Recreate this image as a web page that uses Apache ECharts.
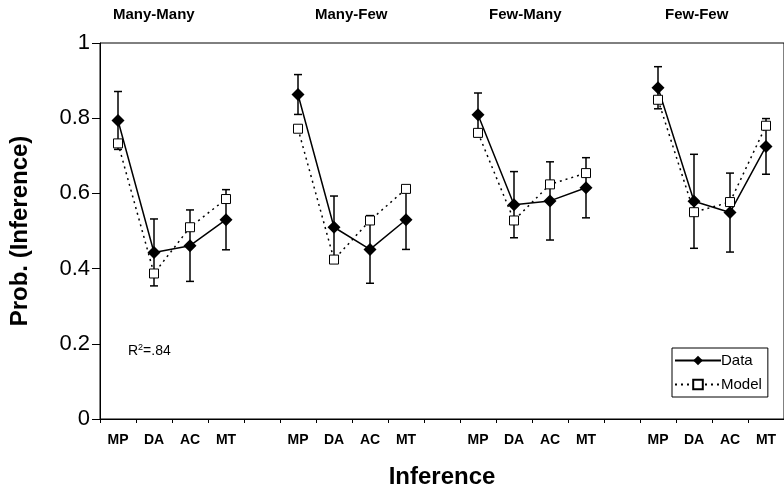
<!DOCTYPE html>
<html>
<head>
<meta charset="utf-8">
<script src="https://cdn.jsdelivr.net/npm/echarts@6/dist/echarts.min.js"></script>
<style>html,body{margin:0;padding:0;background:#fff;}#chart{width:784px;height:494px;}</style>
</head>
<body>
<div id="chart"></div>
<script>
const inferences = ['MP', 'DA', 'AC', 'MT'];
const groupNames = ['Many-Many', 'Many-Few', 'Few-Many', 'Few-Few'];
const yTicks = [0, 0.2, 0.4, 0.6, 0.8, 1];

const dataMM = [0.794, 0.443, 0.461, 0.530];
const dataMF = [0.863, 0.510, 0.451, 0.530];
const dataFM = [0.809, 0.570, 0.580, 0.615];
const dataFF = [0.881, 0.579, 0.549, 0.725];

const errMM = [0.077, 0.089, 0.095, 0.080];
const errMF = [0.053, 0.083, 0.090, 0.079];
const errFM = [0.058, 0.088, 0.104, 0.080];
const errFF = [0.056, 0.125, 0.105, 0.074];

const modelMM = [0.733, 0.387, 0.510, 0.585];
const modelMF = [0.772, 0.424, 0.528, 0.612];
const modelFM = [0.761, 0.528, 0.624, 0.654];
const modelFF = [0.849, 0.550, 0.577, 0.780];

const rSquared = '.84';

const dataGroups = [dataMM, dataMF, dataFM, dataFF];
const errGroups = [errMM, errMF, errFM, errFF];
const modelGroups = [modelMM, modelMF, modelFM, modelFF];

// build category axis with one blank slot between groups
const cats = [];
const dataSeries = [];
const modelSeries = [];
const errData = [];
dataGroups.forEach((g, gi) => {
  if (gi > 0) { cats.push(''); dataSeries.push('-'); modelSeries.push('-'); }
  g.forEach((v, i) => {
    const idx = cats.length;
    cats.push(inferences[i]);
    dataSeries.push(v);
    modelSeries.push(modelGroups[gi][i]);
    errData.push([idx, v - errGroups[gi][i], v + errGroups[gi][i]]);
  });
});

const FONT = 'Liberation Sans, Arial, sans-serif';
const chart = echarts.init(document.getElementById('chart'), null, {renderer: 'canvas'});

const titleLeft = [113, 315, 489, 665];

chart.setOption({
  animation: false,
  backgroundColor: '#fff',
  grid: {left: 98, top: 43, right: -4, bottom: 72, show: true, borderColor: '#000', borderWidth: 1},
  xAxis: {
    type: 'category',
    data: cats,
    boundaryGap: true,
    name: 'Inference',
    nameLocation: 'middle',
    nameGap: 46,
    nameTextStyle: {fontFamily: FONT, fontSize: 24, fontWeight: 'bold', color: '#000'},
    axisLine: {lineStyle: {color: '#000', width: 1}},
    axisTick: {show: true, interval: 0, length: 4, lineStyle: {color: '#000'}},
    axisLabel: {interval: 0, margin: 14, fontFamily: FONT, fontSize: 14, fontWeight: 'bold', color: '#000'},
    splitLine: {show: false}
  },
  yAxis: {
    type: 'value',
    min: 0, max: 1, interval: 0.2,
    name: 'Prob. (Inference)',
    nameLocation: 'middle',
    nameGap: 68,
    nameTextStyle: {fontFamily: FONT, fontSize: 24, fontWeight: 'bold', color: '#000'},
    axisLine: {show: true, lineStyle: {color: '#000', width: 1}},
    axisTick: {show: true, length: 8, lineStyle: {color: '#000'}},
    axisLabel: {margin: 10, fontFamily: FONT, fontSize: 22, color: '#000',
      formatter: v => yTicks.indexOf(Math.round(v * 10) / 10) >= 0 ? String(Math.round(v * 10) / 10) : ''},
    splitLine: {show: false}
  },
  legend: {
    orient: 'vertical',
    left: 672, top: 348,
    data: ['Data', 'Model'],
    backgroundColor: '#fff',
    borderColor: '#000', borderWidth: 1,
    padding: [5, 6, 5, 2],
    itemWidth: 46, itemHeight: 12, itemGap: 9,
    textStyle: {fontFamily: FONT, fontSize: 15, color: '#000', padding: [0, 0, 0, -5]}
  },
  graphic: groupNames.map((n, i) => ({
    type: 'text', left: titleLeft[i], top: 7,
    style: {text: n, font: 'bold 15px ' + FONT, fill: '#000'}
  })).concat([{
    type: 'text', left: 128, top: 343,
    style: {
      text: '{r|R}{s|2}{r|=' + rSquared + '}',
      rich: {
        r: {fontFamily: FONT, fontSize: 14, color: '#000', verticalAlign: 'bottom'},
        s: {fontFamily: FONT, fontSize: 9, color: '#000', verticalAlign: 'top', padding: [0, 0, 6, 0]}
      }
    }
  }]),
  series: [
    {
      type: 'custom',
      name: 'err',
      data: errData,
      z: 1,
      renderItem: function (params, api) {
        const x = api.value(0);
        const lo = api.coord([x, api.value(1)]);
        const hi = api.coord([x, api.value(2)]);
        const c = 4;
        const st = {stroke: '#000', lineWidth: 1.5};
        return {
          type: 'group',
          children: [
            {type: 'line', shape: {x1: lo[0], y1: lo[1], x2: hi[0], y2: hi[1]}, style: st},
            {type: 'line', shape: {x1: lo[0] - c, y1: lo[1], x2: lo[0] + c, y2: lo[1]}, style: st},
            {type: 'line', shape: {x1: hi[0] - c, y1: hi[1], x2: hi[0] + c, y2: hi[1]}, style: st}
          ]
        };
      }
    },
    {
      type: 'line',
      name: 'Data',
      data: dataSeries,
      connectNulls: false,
      symbol: 'diamond',
      symbolSize: 13,
      z: 3,
      lineStyle: {color: '#000', width: 1.5, type: 'solid'},
      itemStyle: {color: '#000', borderColor: '#000', borderWidth: 0}
    },
    {
      type: 'line',
      name: 'Model',
      data: modelSeries,
      connectNulls: false,
      symbol: 'rect',
      symbolSize: 9,
      z: 4,
      lineStyle: {color: '#000', width: 1.5, type: [2, 4]},
      itemStyle: {color: '#fff', borderColor: '#000', borderWidth: 1}
    }
  ]
});
</script>
</body>
</html>
